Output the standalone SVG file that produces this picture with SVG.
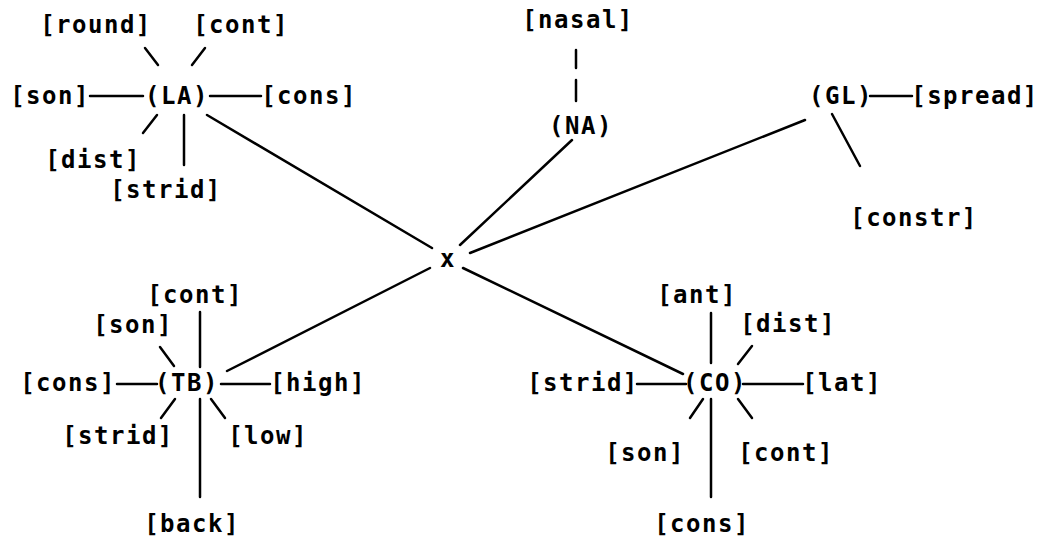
<svg xmlns="http://www.w3.org/2000/svg" width="1052" height="536" viewBox="0 0 1052 536">
<style>
text{font-family:"DejaVu Sans Mono","Liberation Mono",monospace;font-size:24px;font-weight:bold;fill:#000;text-anchor:middle;letter-spacing:1.5px}
line{stroke:#000;stroke-width:2.5;stroke-linecap:round}
</style>
<rect width="1052" height="536" fill="#fff"/>
<g id="connectors">
<line x1="145" y1="48" x2="158" y2="65"/>
<line x1="205" y1="48" x2="192" y2="65"/>
<line x1="90" y1="96" x2="143" y2="96"/>
<line x1="210" y1="96" x2="261" y2="96"/>
<line x1="157" y1="115" x2="143" y2="133"/>
<line x1="184" y1="115" x2="184" y2="165"/>
<line x1="207" y1="115" x2="432" y2="248"/>
<line x1="576" y1="50" x2="576" y2="68"/>
<line x1="576" y1="80" x2="576" y2="101"/>
<line x1="572" y1="140" x2="460" y2="245"/>
<line x1="805" y1="120" x2="470" y2="253"/>
<line x1="870" y1="96" x2="912" y2="96"/>
<line x1="832" y1="114" x2="860" y2="166"/>
<line x1="227" y1="371" x2="430" y2="268"/>
<line x1="200" y1="312" x2="200" y2="367"/>
<line x1="160" y1="347" x2="174" y2="366"/>
<line x1="117" y1="384" x2="157" y2="384"/>
<line x1="221" y1="384" x2="270" y2="384"/>
<line x1="175" y1="399" x2="161" y2="418"/>
<line x1="200" y1="399" x2="200" y2="497"/>
<line x1="211" y1="399" x2="225" y2="418"/>
<line x1="463" y1="268" x2="683" y2="374"/>
<line x1="711" y1="313" x2="711" y2="363"/>
<line x1="752" y1="346" x2="738" y2="364"/>
<line x1="637" y1="384" x2="686" y2="384"/>
<line x1="743" y1="384" x2="803" y2="384"/>
<line x1="703" y1="399" x2="690" y2="418"/>
<line x1="711" y1="399" x2="711" y2="497"/>
<line x1="738" y1="399" x2="752" y2="418"/>
</g>
<g id="LA">
<text x="177" y="104">(LA)</text>
<text x="96" y="33">[round]</text>
<text x="241" y="33">[cont]</text>
<text x="50" y="104">[son]</text>
<text x="309" y="104">[cons]</text>
<text x="93" y="168">[dist]</text>
<text x="166" y="198">[strid]</text>
</g>
<g id="NA">
<text x="581" y="134">(NA)</text>
<text x="578" y="28">[nasal]</text>
</g>
<g id="GL">
<text x="841" y="104">(GL)</text>
<text x="975" y="104">[spread]</text>
<text x="914" y="226">[constr]</text>
</g>
<g id="X">
<text x="448" y="267" letter-spacing="0">x</text>
</g>
<g id="TB">
<text x="187" y="391">(TB)</text>
<text x="195" y="303">[cont]</text>
<text x="133" y="333">[son]</text>
<text x="68" y="391">[cons]</text>
<text x="318" y="391">[high]</text>
<text x="118" y="444">[strid]</text>
<text x="268" y="444">[low]</text>
<text x="192" y="532">[back]</text>
</g>
<g id="CO">
<text x="715" y="391">(CO)</text>
<text x="697" y="303">[ant]</text>
<text x="788" y="332">[dist]</text>
<text x="583" y="391">[strid]</text>
<text x="842" y="391">[lat]</text>
<text x="645" y="461">[son]</text>
<text x="786" y="461">[cont]</text>
<text x="702" y="532">[cons]</text>
</g>
</svg>
